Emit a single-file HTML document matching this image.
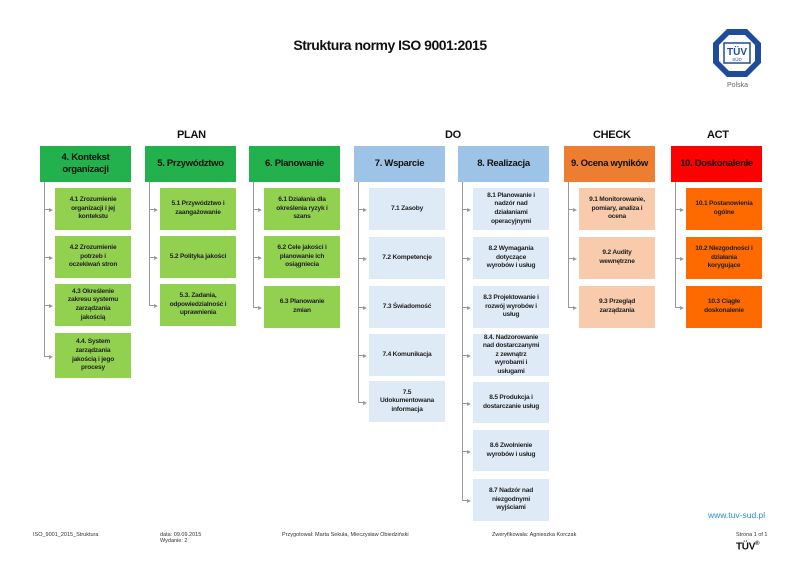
<!DOCTYPE html>
<html><head><meta charset="utf-8"><style>
body{margin:0;width:800px;height:566px;background:#fff;position:relative;font-family:"Liberation Sans",sans-serif;overflow:hidden}
.a{position:absolute;display:flex;align-items:center;justify-content:center;text-align:center;box-sizing:border-box}
.h{font-size:9.5px;font-weight:bold;color:#111;line-height:12px;padding:0 3px;letter-spacing:-0.3px}
.c{font-size:6.6px;color:#222;line-height:8.6px;padding:0 9px;font-weight:bold;letter-spacing:-0.2px}
.t{position:absolute;font-size:11px;font-weight:bold;color:#111;letter-spacing:-0.3px}
.f{position:absolute;font-size:5.5px;color:#333;white-space:nowrap}
.v{position:absolute;width:1px;background:#999}
.hl{position:absolute;height:1px;background:#999}
.ar{position:absolute;width:0;height:0;border-left:4px solid #999;border-top:2px solid transparent;border-bottom:2px solid transparent}
</style></head><body>
<div class="t" style="left:0;width:780px;top:37px;text-align:center;font-size:14px;letter-spacing:-0.5px">Struktura normy ISO 9001:2015</div>
<svg style="position:absolute;left:712px;top:28px" width="50" height="50" viewBox="0 0 50 50">
<polygon points="15,1 35,1 49,15 49,35 35,49 15,49 1,35 1,15" fill="#1e4c9a"/>
<polygon points="17,7 33,7 43,17 43,33 33,43 17,43 7,33 7,17" fill="#fff"/>
<rect x="12" y="15" width="26" height="20" fill="#fff" stroke="#1e4c9a" stroke-width="1.5"/>
<text x="25" y="27" font-size="10" font-weight="bold" text-anchor="middle" fill="#1e4c9a" font-family="Liberation Sans">TÜV</text>
<text x="25" y="33" font-size="4.5" text-anchor="middle" fill="#1e4c9a" font-family="Liberation Sans">SÜD</text>
</svg>
<div class="f" style="left:727px;top:82px;font-size:7px;color:#666">Polska</div>
<div class="t" style="left:177px;top:129px">PLAN</div>
<div class="t" style="left:445px;top:129px">DO</div>
<div class="t" style="left:593px;top:129px">CHECK</div>
<div class="t" style="left:707px;top:129px">ACT</div>
<div id="d"></div>
<div class="f" style="left:708px;top:510px;font-size:8.5px;color:#2a8fd0">www.tuv-sud.pl</div>
<div class="f" style="left:33px;top:532px">ISO_9001_2015_Struktura</div>
<div class="f" style="left:160px;top:532px">data: 09.09.2015<br>Wydanie: 2</div>
<div class="f" style="left:282px;top:532px">Przygotował: Marta Sekuła, Mieczysław Obiedziński</div>
<div class="f" style="left:492px;top:532px">Zweryfikowała: Agnieszka Korczak</div>
<div class="f" style="left:736px;top:532px">Strona 1 of 1</div>
<div class="t" style="left:736px;top:541px;font-size:10px">TÜV<sup style="font-size:6px">®</sup></div>
<script>
var cols=[
[40,'#22b14c','#92d050','4. Kontekst organizacji',[[188,42,'4.1 Zrozumienie organizacji i jej kontekstu'],[236,42,'4.2 Zrozumienie potrzeb i oczekiwań stron'],[284,42,'4.3 Określenie zakresu systemu zarządzania jakością'],[333,45,'4.4. System zarządzania jakością i jego procesy']]],
[145,'#22b14c','#92d050','5. Przywództwo',[[188,42,'5.1 Przywództwo i zaangażowanie'],[236,42,'5.2 Polityka jakości'],[284,42,'5.3. Zadania, odpowiedzialność i uprawnienia']]],
[249,'#22b14c','#92d050','6. Planowanie',[[188,42,'6.1 Działania dla określenia ryzyk i szans'],[236,42,'6.2 Cele jakości i planowanie ich osiągniecia'],[286,42,'6.3 Planowanie zmian']]],
[354,'#9dc3e6','#deebf7','7. Wsparcie',[[188,42,'7.1 Zasoby'],[237,42,'7.2 Kompetencje'],[286,42,'7.3 Świadomość'],[334,42,'7.4 Komunikacja'],[381,41,'7.5 Udokumentowana informacja']]],
[458,'#9dc3e6','#deebf7','8. Realizacja',[[188,42,'8.1 Planowanie i nadzór nad działaniami operacyjnymi'],[237,42,'8.2 Wymagania dotyczące wyrobów i usług'],[286,42,'8.3 Projektowanie i rozwój wyrobów i usług'],[334,42,'8.4. Nadzorowanie nad dostarczanymi z zewnątrz wyrobami i usługami'],[382,41,'8.5 Produkcja i dostarczanie usług'],[430,41,'8.6 Zwolnienie wyrobów i usług'],[479,42,'8.7 Nadzór nad niezgodnymi wyjściami']]],
[564,'#ed7d31','#f8cbad','9. Ocena wyników',[[188,42,'9.1 Monitorowanie, pomiary, analiza i ocena'],[237,42,'9.2 Audity wewnętrzne'],[286,42,'9.3 Przegląd zarządzania']]],
[671,'#ff0000','#ff6a00','10. Doskonalenie',[[188,42,'10.1 Postanowienia ogólne'],[237,42,'10.2 Niezgodności i działania korygujące'],[286,42,'10.3 Ciągłe doskonalenie']]]];
var h='';
cols.forEach(function(c){var x=c[0];
h+='<div class="a h" style="left:'+x+'px;top:146px;width:91px;height:36px;background:'+c[1]+'">'+c[3]+'</div>';
var last=c[4][c[4].length-1];var ly=Math.round(last[0]+last[1]/2);
h+='<div class="v" style="left:'+(x+4)+'px;top:182px;height:'+(ly-182)+'px"></div>';
c[4].forEach(function(k){var cy=Math.round(k[0]+k[1]/2);
h+='<div class="hl" style="left:'+(x+4)+'px;top:'+cy+'px;width:6px"></div>';
h+='<div class="ar" style="left:'+(x+9)+'px;top:'+(cy-1.5)+'px"></div>';
h+='<div class="a c" style="left:'+(x+15)+'px;top:'+k[0]+'px;width:76px;height:'+k[1]+'px;background:'+c[2]+'">'+k[2]+'</div>';});});
document.getElementById('d').innerHTML=h;
</script>
</body></html>
